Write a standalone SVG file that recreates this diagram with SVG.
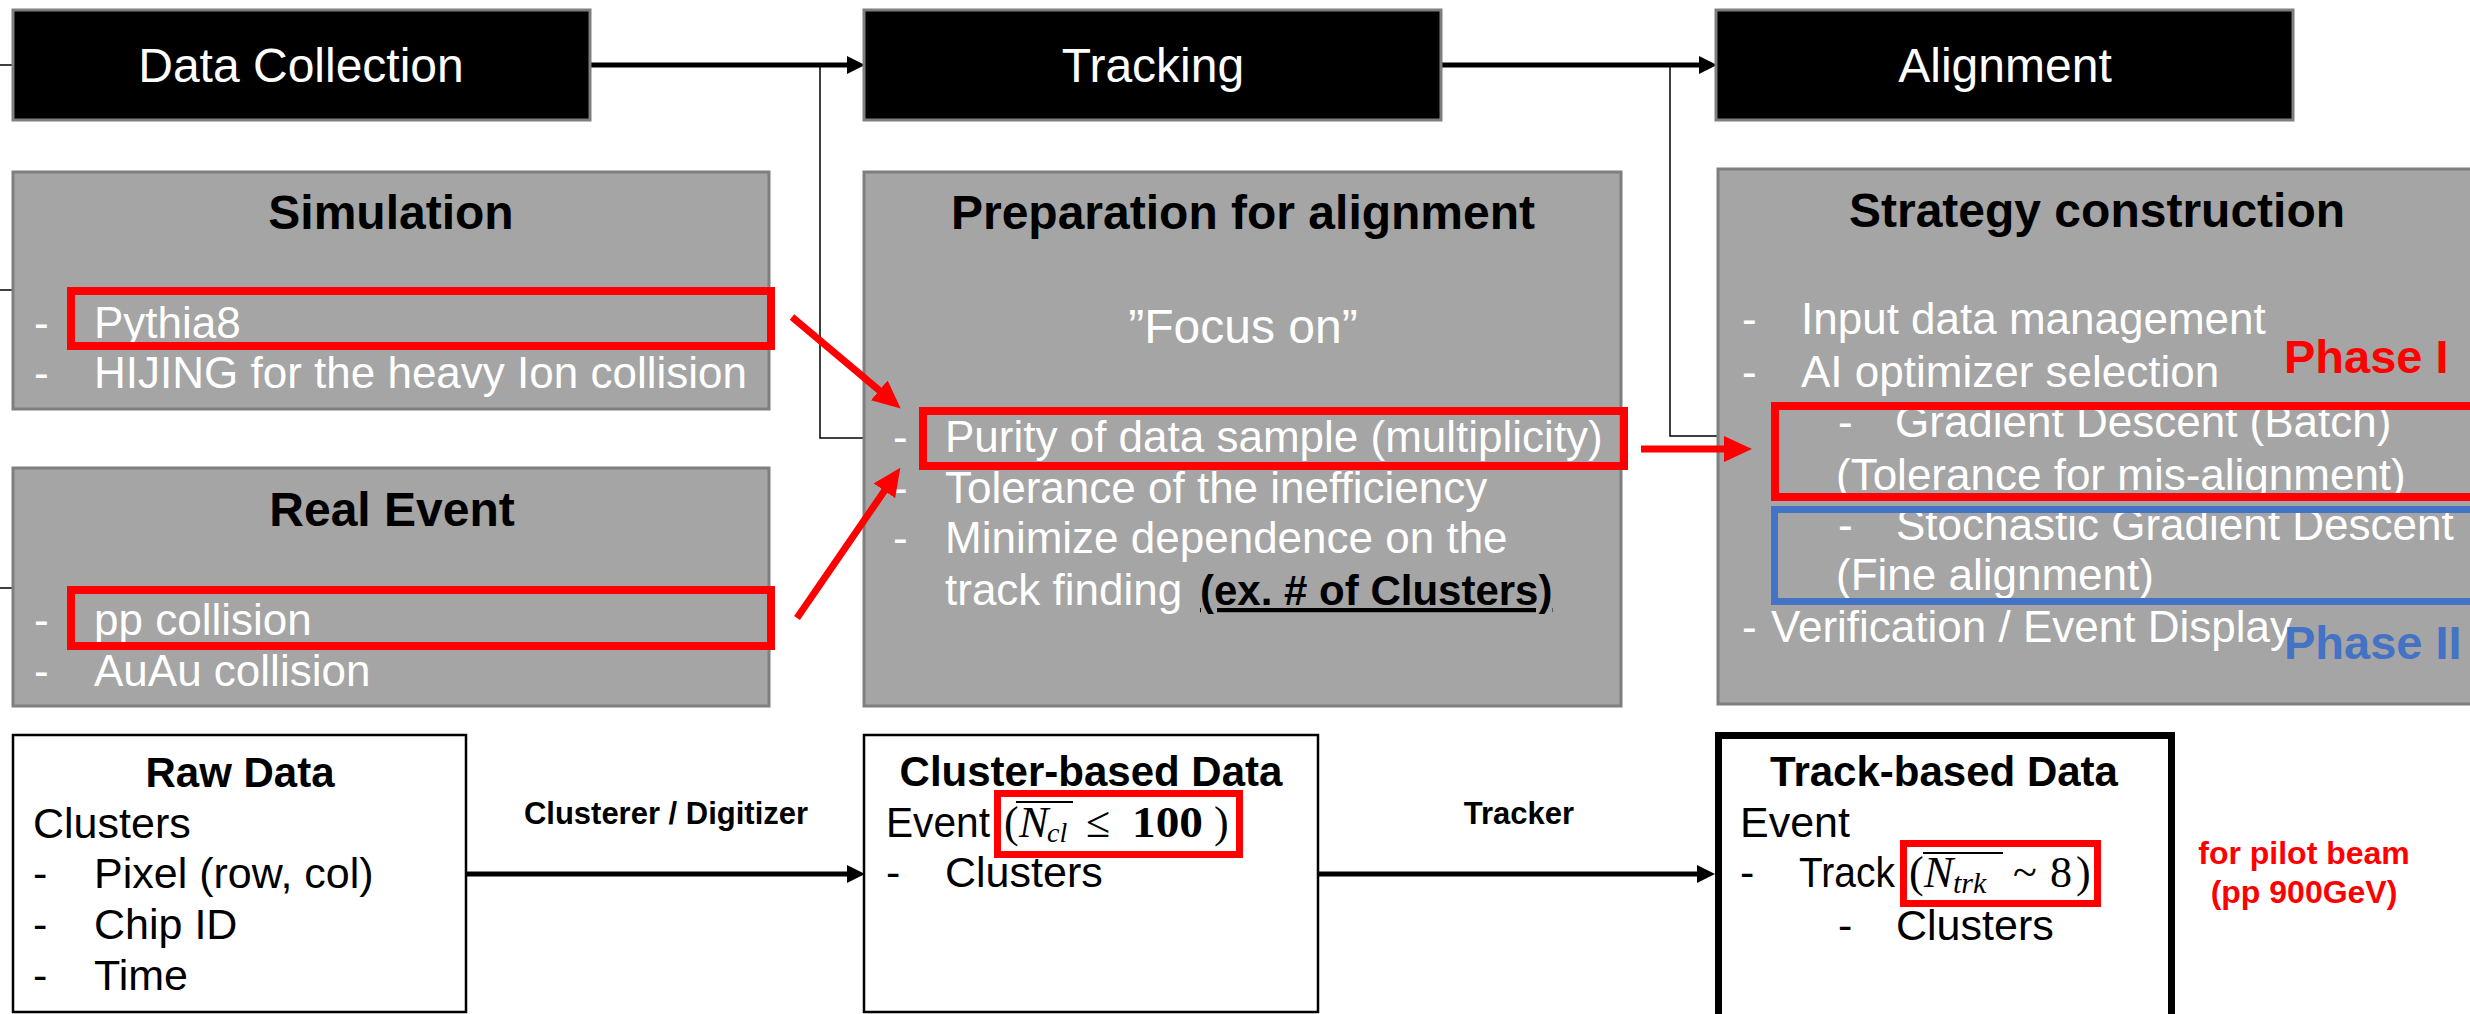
<svg xmlns="http://www.w3.org/2000/svg" width="2470" height="1014" viewBox="0 0 2470 1014">
<style>
.hdr{fill:#000;stroke:#7f7f7f;stroke-width:3}
.gray{fill:#a5a5a5;stroke:#7f7f7f;stroke-width:3}
.wbox{fill:#fff;stroke:#000;stroke-width:2.5}
.hl{fill:none;stroke:#ff0000;stroke-width:8}
.hlb{fill:none;stroke:#4472c4;stroke-width:7}
text{font-family:"Liberation Sans",Arial,sans-serif}
.ht{font-size:48px;fill:#fff;text-anchor:middle}
.h2{font-size:48px;font-weight:bold;fill:#000;text-anchor:middle}
.wt{font-size:44px;fill:#fff}
.bt{font-size:43px;fill:#000}
.h3{font-size:42px;font-weight:bold;fill:#000;text-anchor:middle}
.lab{font-size:31px;font-weight:bold;fill:#000;text-anchor:middle}
.red{fill:#ff0000;font-weight:bold}
.blue{fill:#4472c4;font-weight:bold}
.m{font-family:"Liberation Serif","Times New Roman",serif;font-size:44px;fill:#000}
.mi{font-style:italic}
.thin{fill:none;stroke:#000;stroke-width:1.5}
.blk{fill:none;stroke:#000;stroke-width:5}
.rar{fill:none;stroke:#ff0000;stroke-width:7}
</style>
<defs>
<marker id="ab" markerUnits="userSpaceOnUse" markerWidth="18" markerHeight="18" viewBox="0 0 18 18" refX="1" refY="9" orient="auto"><path d="M0,0 L18,9 L0,18 z" fill="#000"/></marker>
<marker id="ar" markerUnits="userSpaceOnUse" markerWidth="28" markerHeight="26" viewBox="0 0 28 26" refX="1" refY="13" orient="auto"><path d="M0,0 L28,13 L0,26 z" fill="#ff0000"/></marker>
</defs>

<g id="connectors">
<path class="thin" d="M0,65 H13 M0,290 H13 M0,588 H13"/>
<path class="thin" d="M820,65 V438 H864"/>
<path class="thin" d="M1670,65 V436 H1718"/>
<line class="blk" x1="590" y1="65" x2="848" y2="65" marker-end="url(#ab)"/>
<line class="blk" x1="1441" y1="65" x2="1700" y2="65" marker-end="url(#ab)"/>
<line class="blk" x1="466" y1="874" x2="848" y2="874" marker-end="url(#ab)"/>
<line class="blk" x1="1318" y1="874" x2="1698" y2="874" marker-end="url(#ab)"/>
</g>

<g id="n-data-collection">
<rect class="hdr" x="13" y="10" width="577" height="110"/>
<text class="ht" x="301" y="82">Data Collection</text>
</g>
<g id="n-tracking">
<rect class="hdr" x="864" y="10" width="577" height="110"/>
<text class="ht" x="1153" y="82">Tracking</text>
</g>
<g id="n-alignment">
<rect class="hdr" x="1716" y="10" width="577" height="110"/>
<text class="ht" x="2005" y="82">Alignment</text>
</g>

<g id="n-simulation">
<rect class="gray" x="13" y="172" width="756" height="237"/>
<text class="h2" x="391" y="229">Simulation</text>
<text class="wt" x="34" y="338">-</text><text class="wt" x="94" y="338">Pythia8</text>
<text class="wt" x="34" y="388">-</text><text class="wt" x="94" y="388">HIJING for the heavy Ion collision</text>
<rect class="hl" x="71" y="291" width="700" height="55"/>
</g>

<g id="n-real-event">
<rect class="gray" x="13" y="468" width="756" height="238"/>
<text class="h2" x="392" y="526">Real Event</text>
<text class="wt" x="34" y="635">-</text><text class="wt" x="94" y="635">pp collision</text>
<text class="wt" x="34" y="686">-</text><text class="wt" x="94" y="686">AuAu collision</text>
<rect class="hl" x="71" y="590" width="700" height="56"/>
</g>

<g id="n-preparation">
<rect class="gray" x="864" y="172" width="757" height="534"/>
<text class="h2" x="1243" y="229">Preparation for alignment</text>
<text class="wt" x="1243" y="343" style="font-size:48px" text-anchor="middle">”Focus on”</text>
<text class="wt" x="893" y="452">-</text><text class="wt" x="945" y="452">Purity of data sample (multiplicity)</text>
<text class="wt" x="893" y="503">-</text><text class="wt" x="945" y="503">Tolerance of the inefficiency</text>
<text class="wt" x="893" y="553">-</text><text class="wt" x="945" y="553">Minimize dependence on the</text>
<text class="wt" x="945" y="605">track finding <tspan x="1200" style="fill:#000;font-weight:bold;font-size:42px;text-decoration:underline">(ex. # of Clusters)</tspan></text>
<rect class="hl" x="923" y="411" width="701" height="55"/>
</g>

<g id="n-strategy">
<rect class="gray" x="1718" y="169" width="762" height="535"/>
<text class="h2" x="2097" y="227">Strategy construction</text>
<text class="wt" x="1742" y="334">-</text><text class="wt" x="1801" y="334">Input data management</text>
<text class="wt" x="1742" y="387">-</text><text class="wt" x="1801" y="387">AI optimizer selection</text>
<text class="wt" x="1838" y="437">-</text><text class="wt" x="1895" y="437">Gradient Descent (Batch)</text>
<text class="wt" x="1836" y="490">(Tolerance for mis-alignment)</text>
<text class="wt" x="1838" y="540">-</text><text class="wt" x="1896" y="540">Stochastic Gradient Descent</text>
<text class="wt" x="1836" y="590">(Fine alignment)</text>
<text class="wt" x="1742" y="642">-</text><text class="wt" x="1771" y="642">Verification / Event Display</text>
<rect class="hl" x="1775" y="406" width="720" height="91"/>
<rect class="hlb" x="1774.5" y="509.5" width="720" height="92"/>
<text class="red" x="2284" y="373" style="font-size:47px">Phase I</text>
<text class="blue" x="2284" y="659" style="font-size:47px">Phase II</text>
</g>

<g id="n-raw-data">
<rect class="wbox" x="13" y="735" width="453" height="277"/>
<text class="h3" x="240" y="787">Raw Data</text>
<text class="bt" x="33" y="838">Clusters</text>
<text class="bt" x="33" y="888">-</text><text class="bt" x="94" y="888">Pixel (row, col)</text>
<text class="bt" x="33" y="939">-</text><text class="bt" x="94" y="939">Chip ID</text>
<text class="bt" x="33" y="990">-</text><text class="bt" x="94" y="990">Time</text>
</g>

<g id="n-cluster-data">
<rect class="wbox" x="864" y="735" width="454" height="277"/>
<text class="h3" x="1091" y="786">Cluster-based Data</text>
<text class="bt" x="886" y="837" textLength="104" lengthAdjust="spacingAndGlyphs">Event</text>
<text class="m" x="1004" y="837">(</text>
<text class="m mi" x="1019" y="837">N</text>
<text class="m mi" x="1047" y="842" style="font-size:28px">cl</text>
<line x1="1016" y1="802" x2="1073" y2="802" stroke="#000" stroke-width="2"/>
<text class="m" x="1086" y="837">≤</text>
<text class="m" x="1132" y="837" font-weight="bold" textLength="71" lengthAdjust="spacingAndGlyphs">100</text>
<text class="m" x="1214" y="837">)</text>
<rect x="997.5" y="793.5" width="242" height="61" fill="none" stroke="#ff0000" stroke-width="7"/>
<text class="bt" x="886" y="887">-</text><text class="bt" x="945" y="887">Clusters</text>
</g>

<g id="n-track-data">
<rect x="1718.5" y="735.5" width="453" height="290" fill="#fff" stroke="#000" stroke-width="7"/>
<text class="h3" x="1944" y="786">Track-based Data</text>
<text class="bt" x="1740" y="837">Event</text>
<text class="bt" x="1740" y="887">-</text><text class="bt" x="1799" y="887" textLength="96" lengthAdjust="spacingAndGlyphs">Track</text>
<text class="m" x="1909" y="887">(</text>
<text class="m mi" x="1924" y="887">N</text>
<text class="m mi" x="1953" y="893" style="font-size:30px">trk</text>
<line x1="1923" y1="853" x2="2003" y2="853" stroke="#000" stroke-width="2"/>
<text class="m" x="2013" y="887">~</text>
<text class="m" x="2050" y="887">8</text>
<text class="m" x="2076" y="887">)</text>
<rect x="1903.5" y="843.5" width="194" height="60" fill="none" stroke="#ff0000" stroke-width="7"/>
<text class="bt" x="1838" y="940">-</text><text class="bt" x="1896" y="940">Clusters</text>
</g>

<g id="labels">
<text class="lab" x="666" y="824">Clusterer / Digitizer</text>
<text class="lab" x="1519" y="824">Tracker</text>
<text class="red" x="2304" y="864" text-anchor="middle" style="font-size:32px">for pilot beam</text>
<text class="red" x="2304" y="903" text-anchor="middle" style="font-size:32px">(pp 900GeV)</text>
</g>

<g id="highlight-arrows">
<line class="rar" x1="792" y1="317" x2="880" y2="391" marker-end="url(#ar)"/>
<line class="rar" x1="797" y1="618" x2="885" y2="490" marker-end="url(#ar)"/>
<line class="rar" x1="1641" y1="449" x2="1725" y2="449" marker-end="url(#ar)"/>
</g>
</svg>
